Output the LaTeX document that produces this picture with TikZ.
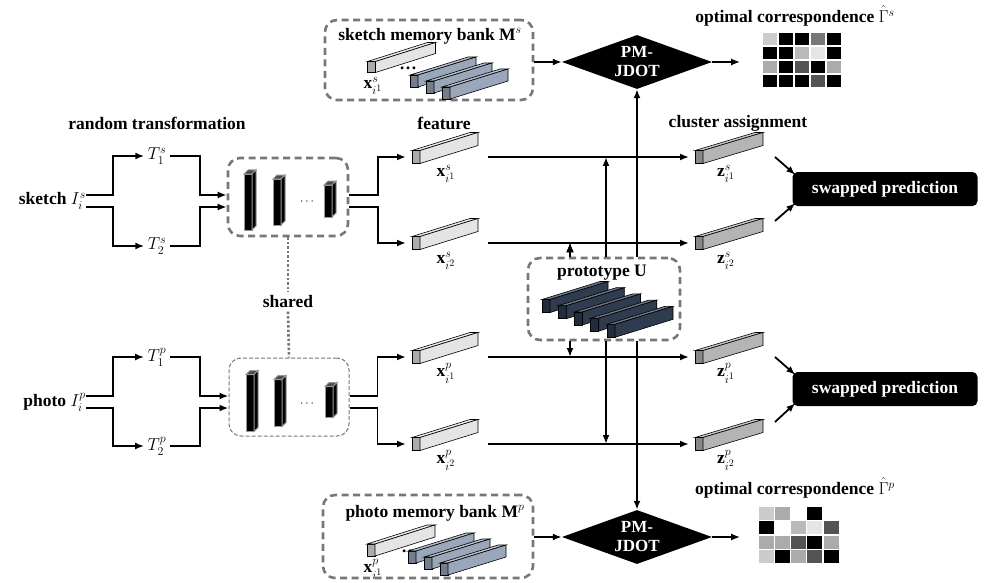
\documentclass[tikz,border=0pt]{standalone}
\usepackage{amsmath}
\usepackage{amssymb}
\usepackage{fontspec}
\setmainfont{Liberation Serif}
\usetikzlibrary{arrows.meta,calc,shapes.geometric}
\DeclareMathSizes{17.5}{17.5}{13}{10}

\definecolor{featgray}{HTML}{E4E4E4}
\definecolor{clugray}{HTML}{B4B4B4}
\definecolor{bankblue}{HTML}{9AA6BA}
\definecolor{protonavy}{HTML}{2F3B4E}
\definecolor{boxgray}{HTML}{777777}

\newcommand{\cuboid}[6]{%
  \node[cub, fill=#6!75!black, minimum width=#3, minimum height=#4] (#1) at (#2) {};
  \filldraw[cub, fill=#6!70!white] (#1.north west) -- ++(#5) -- ($(#1.north east)+(#5)$) -- (#1.north east) -- cycle;
  \filldraw[cub, fill=#6] (#1.north east) -- ++(#5) -- ($(#1.south east)+(#5)$) -- (#1.south east) -- cycle;
}

\begin{document}
\begin{tikzpicture}[x=1pt,y=-1pt,
    font=\fontsize{17.5}{20}\selectfont\bfseries,
    cub/.style={draw=black, line width=.6pt, inner sep=0pt, outer sep=0pt},
    arr/.style={line width=1.8pt, -{Latex[length=9pt,width=7pt]}},
    tobar/.style={arr, shorten >=6pt},
    dbox/.style={draw=boxgray, line width=2.6pt, dash pattern=on 7pt off 4.5pt, rounded corners=12pt, fill=white},
    tbox/.style={draw=boxgray, line width=1pt, dash pattern=on 4pt off 2pt, rounded corners=12pt},
    shr/.style={draw=boxgray, line width=2.6pt, dash pattern=on 2.5pt off 2pt},
    pmjdot/.style={shape=diamond, fill=black, text=white, align=center, inner sep=0pt, aspect=2.78, minimum width=150pt, minimum height=54pt, font=\fontsize{17}{19}\selectfont\bfseries},
    swap/.style={fill=black, text=white, rounded corners=5pt, minimum width=185pt, minimum height=34pt},
    dts/.style={font=\fontsize{12}{12}\selectfont}]
  \useasboundingbox (0,0) rectangle (988,583);

  \node (trf) at (157,123) {random transformation};
  \node (tfe) at (444,123) {feature};
  \node (tcl) at (738,123) {cluster assignment};

  \node[anchor=east, inner sep=0pt] (sk) at (86,201) {sketch $I_i^s$};
  \node[anchor=east, inner sep=0pt] (ph) at (86,402) {photo $I_i^p$};
  \coordinate (sa) at ([yshift=6pt]sk.east);
  \coordinate (sb) at ([yshift=-6pt]sk.east);
  \coordinate (pa) at ([yshift=6pt]ph.east);
  \coordinate (pb) at ([yshift=-6pt]ph.east);
  \node (T1s) at (157,156) {$T_1^s$};
  \node (T2s) at (157,246) {$T_2^s$};
  \node (T1p) at (157,357) {$T_1^p$};
  \node (T2p) at (157,446) {$T_2^p$};

  \node[dbox, minimum width=120pt, minimum height=78pt] (encs) at (288,197) {};
  \node[tbox, minimum width=120pt, minimum height=78pt] (encp) at (289,397) {};
  \begin{scope}[cub/.style={draw=black!40, line width=1pt, inner sep=0pt, outer sep=0pt}]
    \cuboid{es1}{248,202}{8pt}{56pt}{4,-4}{black}
    \cuboid{es2}{277,202}{8pt}{46pt}{4,-4}{black}
    \cuboid{es3}{328,201}{8pt}{32pt}{4,-4}{black}
    \cuboid{ep1}{250,403}{8pt}{57pt}{4,-4}{black}
    \cuboid{ep2}{278,403}{8pt}{47pt}{4,-4}{black}
    \cuboid{ep3}{329,402}{8pt}{31pt}{4,-4}{black}
  \end{scope}
  \node[dts] (des) at (308,202) {$\cdots$};
  \node[dts] (dep) at (308,404) {$\cdots$};
  \node (shared) at (288,302) {shared};
  \draw[shr] (encs.south) -- (shared.north);
  \draw[shr] (shared.south) -- (encp.north);

  \draw[arr] (sa) -- ++(27,0) |- (T1s.west);
  \draw[arr] (sb) -- ++(27,0) |- (T2s.west);
  \draw[arr] (pa) -- ++(27,0) |- (T1p.west);
  \draw[arr] (pb) -- ++(27,0) |- (T2p.west);
  \draw[arr] (T1s.east) -- ++(30,0) |- (encs.west |- sa);
  \draw[arr] (T2s.east) -- ++(30,0) |- (encs.west |- sb);
  \draw[arr] (T1p.east) -- ++(30,0) |- (encp.west |- pa);
  \draw[arr] (T2p.east) -- ++(30,0) |- (encp.west |- pb);

  \cuboid{xs1}{416,157}{8pt}{13pt}{58,-18}{featgray}
  \cuboid{xs2}{416,243}{8pt}{13pt}{58,-18}{featgray}
  \cuboid{xp1}{416,357}{8pt}{13pt}{58,-18}{featgray}
  \cuboid{xp2}{416,444}{8pt}{13pt}{58,-18}{featgray}
  \cuboid{zs1}{699,157}{8pt}{13pt}{60,-18}{clugray}
  \cuboid{zs2}{699,243}{8pt}{13pt}{60,-18}{clugray}
  \cuboid{zp1}{699,357}{8pt}{13pt}{60,-18}{clugray}
  \cuboid{zp2}{699,444}{8pt}{13pt}{60,-18}{clugray}
  \node (lxs1) at (446,174) {$\mathbf{x}^{s}_{i^1}$};
  \node (lxs2) at (446,261) {$\mathbf{x}^{s}_{i^2}$};
  \node (lxp1) at (446,373) {$\mathbf{x}^{p}_{i^1}$};
  \node (lxp2) at (446,460) {$\mathbf{x}^{p}_{i^2}$};
  \node (lzs1) at (726,174) {$\mathbf{z}^{s}_{i^1}$};
  \node (lzs2) at (726,261) {$\mathbf{z}^{s}_{i^2}$};
  \node (lzp1) at (726,373) {$\mathbf{z}^{p}_{i^1}$};
  \node (lzp2) at (726,460) {$\mathbf{z}^{p}_{i^2}$};

  \draw[tobar] (encs.east |- sa) -- ++(29,0) |- (xs1.west);
  \draw[tobar] (encs.east |- sb) -- ++(29,0) |- (xs2.west);
  \draw[tobar] (encp.east |- pa) -- ++(28,0) |- (xp1.west);
  \draw[tobar] (encp.east |- pb) -- ++(28,0) |- (xp2.west);
  \draw[tobar] ([xshift=68pt]xs1.east) -- (zs1.west);
  \draw[tobar] ([xshift=68pt]xs2.east) -- (zs2.west);
  \draw[tobar] ([xshift=68pt]xp1.east) -- (zp1.west);
  \draw[tobar] ([xshift=68pt]xp2.east) -- (zp2.west);

  \node[swap] (sps) at (885,189) {swapped prediction};
  \node[swap] (spp) at (885,389) {swapped prediction};
  \draw[arr] ([xshift=72pt]zs1.east) -- ([xshift=3pt,yshift=-3pt]sps.north west);
  \draw[arr] ([xshift=72pt,yshift=22pt]zs2.east) -- ([xshift=3pt,yshift=3pt]sps.south west);
  \draw[arr] ([xshift=72pt]zp1.east) -- ([xshift=3pt,yshift=-3pt]spp.north west);
  \draw[arr] ([xshift=72pt,yshift=22pt]zp2.east) -- ([xshift=3pt,yshift=3pt]spp.south west);

  \node[pmjdot] (pms) at (637,62) {PM-\\JDOT};
  \node[pmjdot] (pmp) at (637,537) {PM-\\JDOT};

  \node[dbox, minimum width=152pt, minimum height=82pt] (proto) at (604,299) {};
  \node (lpr) at (602,273) {prototype U};
  \foreach \i in {0,...,4}
    \cuboid{u\i}{546+16.25*\i,306+6.2*\i}{8pt}{13pt}{58,-18}{protonavy}
  \draw[arr] ([xshift=-34pt]proto.north) -- ([xshift=-34pt]proto.north |- xs2.east);
  \draw[arr] ([xshift=2pt]proto.north) -- ([xshift=2pt]proto.north |- xs1.east);
  \draw[arr] ([xshift=-34pt]proto.south) -- ([xshift=-34pt]proto.south |- xp1.east);
  \draw[arr] ([xshift=2pt]proto.south) -- ([xshift=2pt]proto.south |- xp2.east);
  \draw[arr] (pms.south |- proto.north) -- (pms.south);
  \draw[arr] (pmp.north |- proto.south) -- (pmp.north);

  \node[dbox, minimum width=208pt, minimum height=80pt] (msb) at (429,60) {};
  \node (lms) at (430,36) {sketch memory bank $\mathbf{M}^s$};
  \cuboid{ms0}{371.5,67}{8pt}{11pt}{60,-19}{featgray}
  \node (lmx) at (373,86) {$\mathbf{x}^{s}_{i^1}$};
  \node (dms) at (408,68) {\ldots};
  \cuboid{ms1}{414,81}{8pt}{12pt}{58,-18}{bankblue}
  \cuboid{ms2}{430,87}{8pt}{12pt}{58,-18}{bankblue}
  \cuboid{ms3}{446,93}{8pt}{12pt}{58,-18}{bankblue}

  \node[dbox, minimum width=210pt, minimum height=83pt] (mpb) at (428,536.5) {};
  \node (lmp) at (435,513) {photo memory bank $\mathbf{M}^p$};
  \cuboid{mp0}{371,550}{8pt}{12pt}{60,-19}{featgray}
  \node (lpx) at (373,569) {$\mathbf{x}^{p}_{i^1}$};
  \node (dmp) at (410,551) {\ldots};
  \cuboid{mp1}{412,557}{8pt}{12pt}{58,-18}{bankblue}
  \cuboid{mp2}{428,563}{8pt}{12pt}{58,-18}{bankblue}
  \cuboid{mp3}{444,569}{8pt}{12pt}{58,-18}{bankblue}

  \draw[arr] (msb.east |- pms.west) -- (pms.west);
  \draw[arr] (mpb.east |- pmp.west) -- (pmp.west);
  \draw[arr] (pms.east) -- ++(28,0);
  \draw[arr] (pmp.east) -- ++(28,0);

  \node (los) at (795,16) {optimal correspondence $\hat{\Gamma}^s$};
  \node (lop) at (795,488) {optimal correspondence $\hat{\Gamma}^p$};
  \foreach \row [count=\r] in {{20,100,100,53,100},{100,100,27,10,100},{33,100,67,100,33},{100,100,100,67,100}}
    \foreach \v [count=\c] in \row
      \filldraw[fill=black!\v, draw=white, line width=1.2pt] (746+16*\c,18+14*\r) rectangle ++(16,14);
  \foreach \row [count=\r] in {{20,33,0,100,0},{100,0,27,10,67},{33,33,67,100,33},{20,100,33,67,100}}
    \foreach \v [count=\c] in \row
      \filldraw[fill=black!\v, draw=white, line width=1.2pt] (742+16.2*\c,491.5+14.5*\r) rectangle ++(16.2,14.5);
\end{tikzpicture}
\end{document}
